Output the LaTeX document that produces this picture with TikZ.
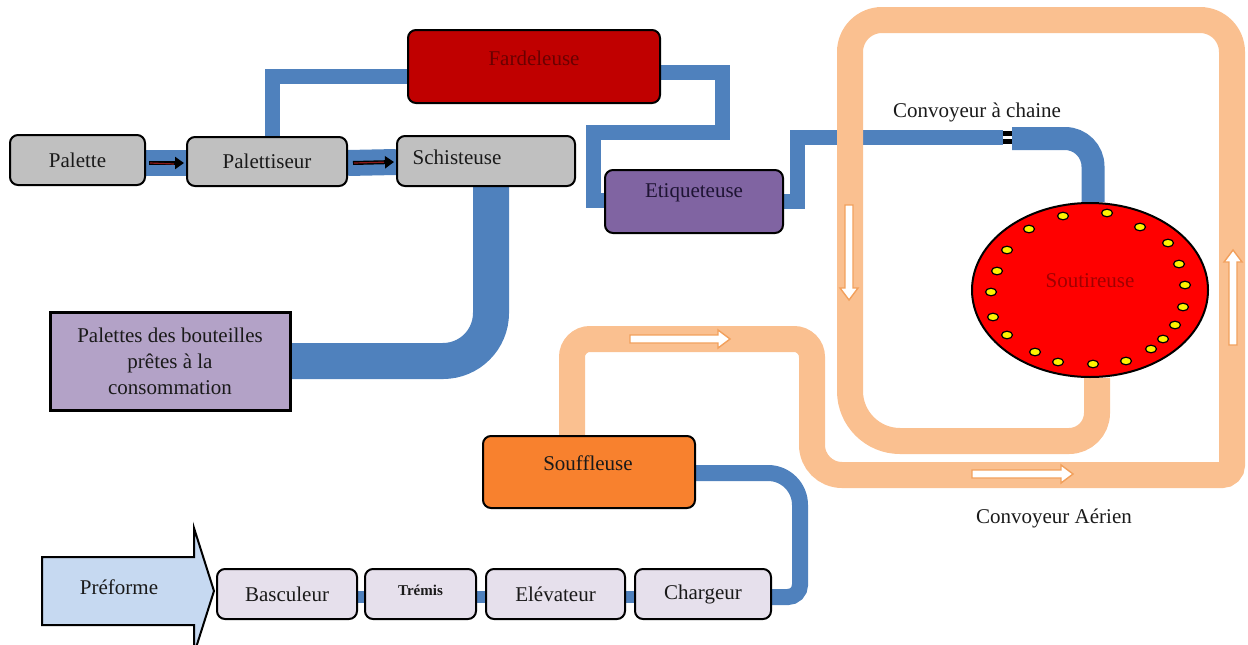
\documentclass[tikz,border=0pt]{standalone}
\usepackage{fontspec}
\setmainfont{Liberation Serif}
\usetikzlibrary{arrows.meta,shapes.geometric}
\pgfdeclarelayer{back}
\pgfsetlayers{back,main}

\definecolor{beltblue}{HTML}{4F81BD}
\definecolor{airbelt}{HTML}{FAC090}
\definecolor{airedge}{HTML}{F2A05C}
\definecolor{grayfill}{HTML}{C0C0C0}
\definecolor{fardred}{HTML}{C00000}
\definecolor{etiviolet}{HTML}{8064A2}
\definecolor{palviolet}{HTML}{B3A2C7}
\definecolor{soufforange}{HTML}{F8812E}
\definecolor{lavender}{HTML}{E6E0EC}
\definecolor{prefblue}{HTML}{C6D9F1}
\definecolor{txt}{HTML}{1A1A1A}
\definecolor{darkredtxt}{HTML}{6A0000}
\definecolor{soutxt}{HTML}{A00000}
\definecolor{etitxt}{HTML}{1E1433}
\definecolor{arrowred}{HTML}{8B1A1A}

\begin{document}
\begin{tikzpicture}[x=1pt,y=-1pt,
  labelfont/.style={font=\rmfamily\fontsize{21}{26}\selectfont},
  box/.style={draw=black, line width=2pt, rounded corners=8pt, inner sep=0pt,
              labelfont, text=txt, align=center},
  lbl/.style={labelfont, text=txt, inner sep=0pt},
  belt/.style={draw=beltblue, line width=15pt, line join=miter},
  air/.style={draw=airbelt, line width=26pt},
  harrow/.style={draw=airedge, fill=white, line width=1.4pt, line join=miter},
  flowarrow/.style={draw=black, line width=4pt, -{Triangle[length=9pt,width=12pt]}},
  seat/.style={draw=black, fill=yellow, line width=1.2pt}]

\useasboundingbox (0,0) rectangle (1248,645);

% ---------- machines ----------
\node[box, fill=grayfill, minimum width=135pt, minimum height=50pt] (pal) at (77.5,160) {Palette};
\node[box, fill=grayfill, minimum width=160pt, minimum height=49pt] (palt) at (267,161.5) {Palettiseur};
\node[box, fill=grayfill, minimum width=178pt, minimum height=50pt] (sch) at (486,161) {};
\node[lbl] (sch-t) at (457,157) {Schisteuse};

\node[box, fill=fardred, minimum width=252pt, minimum height=73pt] (far) at (534,66.5) {};
\node[lbl, text=darkredtxt] (far-t) at (534,58) {Fardeleuse};

\node[box, fill=etiviolet, minimum width=178pt, minimum height=63pt] (eti) at (694,201.5) {};
\node[lbl, text=etitxt] (eti-t) at (694,193) {Etiqueteuse};

\node[draw=black, line width=3pt, fill=palviolet, minimum width=240pt, minimum height=98pt,
      labelfont, text=txt, align=center, inner sep=0pt] (pbc) at (170,361)
      {Palettes des bouteilles\\prêtes à la\\consommation};

\node[box, fill=soufforange, minimum width=212pt, minimum height=72pt] (souf) at (589,472) {};
\node[lbl] (souf-t) at (588,463) {Souffleuse};

% filler carousel
\node[ellipse, draw=black, line width=2pt, fill=red, minimum width=236pt, minimum height=174pt,
      inner sep=0pt] (sou) at (1090,290) {};
\node[lbl, text=soutxt] (sou-t) at (1090,281) {Soutireuse};
\foreach \px/\py in {1063/216,1107/213,1140/227,1168/243,1179/264,1185/285,1183/307,1175/325,
                     1163/339,1151/349,1126/361,1093/364,1058/362,1035/352,1007/335,993/317,
                     991/292,997/271,1007/250,1029/229}
  \draw[seat] (\px,\py) ellipse [x radius=5.5pt, y radius=3.8pt];

% preform feed line
\draw[draw=black, line width=2pt, fill=prefblue, line join=miter]
  (42,557) -- (194,557) -- (194,528) -- (214,591) -- (194,654) -- (194,625) -- (42,625) -- cycle;
\node[lbl] (pref) at (119,587) {Préforme};

\node[box, fill=lavender, minimum width=140pt, minimum height=50pt] (bas) at (287,594) {Basculeur};
\node[box, fill=lavender, minimum width=111pt, minimum height=50pt,
      font=\rmfamily\fontsize{15}{17}\bfseries\selectfont, text depth=7pt] (tre) at (420.5,594) {Trémis};
\node[box, fill=lavender, minimum width=139pt, minimum height=50pt] (ele) at (555.5,594) {Elévateur};
\node[box, fill=lavender, minimum width=136pt, minimum height=50pt] (cha) at (703,594) {Chargeur};

% ---------- captions ----------
\node[lbl] (cap-chaine) at (977,112) {Convoyeur à chaine};
\node[lbl] (cap-aerien) at (1054,518) {Convoyeur Aérien};

% ---------- conveyors ----------
\coordinate (chainA) at (1003,137);
\coordinate (chainB) at (1012,138.5);

\begin{pgfonlayer}{back}
  % bottle conveyors
  \draw[belt, line width=26pt] ([yshift=-3pt]pal.east) -- ([yshift=-1.5pt]palt.west);
  \draw[belt, line width=26pt] ([yshift=-1.5pt]palt.east) -- ([yshift=-1pt]sch.west);
  \draw[belt] ([xshift=5pt]palt.north) -- (272,76) -- ([yshift=-9.5pt]far.west);
  \draw[belt] ([yshift=-5.5pt]far.east) -- (722,72) -- (722,132) -- (593,132)
              -- (593,200) -- ([yshift=1.5pt]eti.west);
  \draw[belt] (eti.east) -- (797,201.5) -- (797,137) -- (chainA);
  \draw[belt, line width=23pt, rounded corners=28pt] (chainB) -- (1093,138.5) -- ([xshift=3pt]sou.north);
  \draw[belt, line width=36pt, rounded corners=48pt] ([xshift=5pt]sch.south) -- (491,361) -- (pbc.east);
  \draw[belt, line width=12pt] ([yshift=-3pt]bas.east) -- ([yshift=-3pt]tre.west);
  \draw[belt, line width=12pt] ([yshift=-3pt]tre.east) -- ([yshift=-3pt]ele.west);
  \draw[belt, line width=12pt] ([yshift=-3pt]ele.east) -- ([yshift=-3pt]cha.west);
  \draw[belt, line width=16pt] ([yshift=-1pt]souf.east) [rounded corners=32pt] -- (800,473)
        [rounded corners=12pt] -- (800,597) -- ([yshift=-3pt]cha.east);

  % overhead air conveyor
  \draw[air] ([xshift=-17pt]souf.north) [rounded corners=18pt] -- (572,339) -- (812,339)
        [rounded corners=30pt] -- (812,475) [rounded corners=10pt] -- (1232,475)
        [rounded corners=32pt] -- (1232,20) -- (850,20)
        [rounded corners=50pt] -- (850,441) [rounded corners=28pt] -- (1097,441)
        -- ([xshift=7pt]sou.south);
\end{pgfonlayer}

% chain joint
\fill[black] (1003,131) rectangle (1012,136);
\fill[black] (1003,139) rectangle (1012,144);

% transfer arrows between palletising stations
\draw[flowarrow] ([xshift=3pt,yshift=-3pt]pal.east) -- ([xshift=-2pt,yshift=-1.5pt]palt.west);
\draw[arrowred, line width=1.2pt] ([xshift=4pt,yshift=-3pt]pal.east) -- ([xshift=-12pt,yshift=-2.5pt]palt.west);
\draw[flowarrow] ([xshift=5pt,yshift=-1.5pt]palt.east) -- ([xshift=-2pt,yshift=-1pt]sch.west);
\draw[arrowred, line width=1.2pt] ([xshift=6pt,yshift=-1.5pt]palt.east) -- ([xshift=-12pt,yshift=-1.2pt]sch.west);

% direction marks on the air conveyor
\draw[harrow] (630,335) -- (718,335) -- (718,330) -- (730,339) -- (718,348) -- (718,343) -- (630,343) -- cycle;
\draw[harrow] (972,470) -- (1061,470) -- (1061,465) -- (1073,474) -- (1061,483) -- (1061,478) -- (972,478) -- cycle;
\draw[harrow] (845,205) -- (845,288) -- (840,288) -- (849,300) -- (858,288) -- (853,288) -- (853,205) -- cycle;
\draw[harrow] (1229,345) -- (1229,262) -- (1224,262) -- (1233,250) -- (1242,262) -- (1237,262) -- (1237,345) -- cycle;

\end{tikzpicture}
\end{document}
